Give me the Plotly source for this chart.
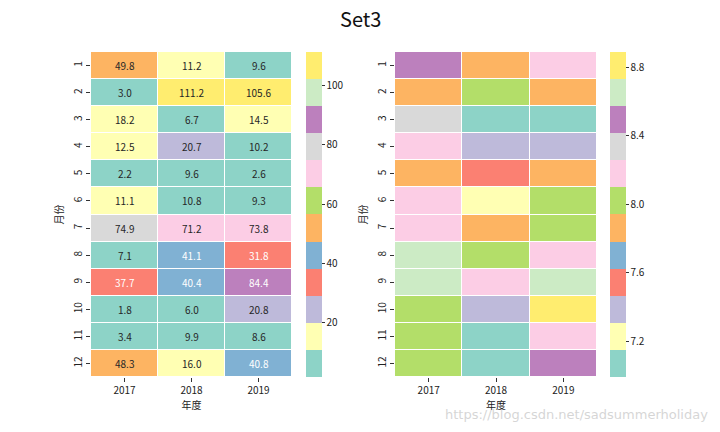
import plotly.graph_objects as go

years = ["2017", "2018", "2019"]
months = [str(m) for m in range(1, 13)]

# left heatmap values (rows = months, cols = years)
left_values = [
    [49.8, 11.2, 9.6],
    [3.0, 111.2, 105.6],
    [18.2, 6.7, 14.5],
    [12.5, 20.7, 10.2],
    [2.2, 9.6, 2.6],
    [11.1, 10.8, 9.3],
    [74.9, 71.2, 73.8],
    [7.1, 41.1, 31.8],
    [37.7, 40.4, 84.4],
    [1.8, 6.0, 20.8],
    [3.4, 9.9, 8.6],
    [48.3, 16.0, 40.8],
]

# right heatmap values (estimated from colour bins)
right_values = [
    [8.50, 7.86, 8.17],
    [7.88, 8.03, 7.84],
    [8.33, 6.99, 7.08],
    [8.19, 7.40, 7.38],
    [7.85, 7.55, 7.87],
    [8.16, 7.22, 8.02],
    [8.18, 7.86, 8.04],
    [8.66, 8.01, 8.20],
    [8.64, 8.17, 8.63],
    [8.03, 7.39, 8.89],
    [8.02, 7.06, 8.19],
    [8.00, 7.05, 8.48],
]

left_ticks = [20, 40, 60, 80, 100]
right_ticks = [7.2, 7.6, 8.0, 8.4, 8.8]

set3 = ["#8dd3c7", "#ffffb3", "#bebada", "#fb8072", "#80b1d3", "#fdb462",
        "#b3de69", "#fccde5", "#d9d9d9", "#bc80bd", "#ccebc5", "#ffed6f"]
n = len(set3)
colorscale = []
for i, c in enumerate(set3):
    colorscale.append([i / n, c])
    colorscale.append([(i + 1) / n, c])

FONT = "Noto Sans CJK SC, Noto Sans, sans-serif"
W, H = 720, 432
OFF = 8  # page body margin

def px_x(p):
    return (p - OFF) / W

def px_y(p):
    return 1 - (p - OFF) / H

xi = list(range(len(years)))
yi = list(range(len(months)))

top, bottom = 52, 377
fig = go.Figure()

def add_map(values, xa, ya, cb_x, ticks, fmt):
    flat = [v for r in values for v in r]
    zmin, zmax = min(flat), max(flat)
    fig.add_trace(go.Heatmap(
        z=values, x=xi, y=yi, xaxis=xa, yaxis=ya,
        colorscale=colorscale, zmin=zmin, zmax=zmax,
        xgap=1, ygap=1, hoverinfo="skip",
        colorbar=dict(
            x=px_x(cb_x), xanchor="left", y=px_y(bottom), yanchor="bottom",
            len=(bottom - top) / H, lenmode="fraction", thickness=16,
            xpad=0, ypad=0, outlinewidth=0,
            tickvals=ticks, ticktext=[fmt.format(t) for t in ticks],
            ticks="outside", ticklen=3, tickcolor="#333",
            tickfont=dict(family=FONT, size=10, color="#222"),
        ),
    ))
    return zmin, zmax

zmin_l, zmax_l = add_map(left_values, "x", "y", 306, left_ticks, "{:d}")
add_map(right_values, "x2", "y2", 610, right_ticks, "{:.1f}")

dark = {"#80b1d3", "#fb8072", "#bc80bd"}
annotations = []
for i, row in enumerate(left_values):
    for j, v in enumerate(row):
        idx = min(int((v - zmin_l) / (zmax_l - zmin_l) * n), n - 1)
        col = "white" if set3[idx] in dark else "#262626"
        annotations.append(dict(
            x=xi[j], y=yi[i], xref="x", yref="y", text=f"{v:.1f}",
            showarrow=False, font=dict(family=FONT, size=10, color=col)))

annotations.append(dict(
    x=px_x(360), y=px_y(19), xref="paper", yref="paper", text="Set3", showarrow=False,
    font=dict(family=FONT, size=20, color="#111"), yanchor="middle"))
annotations.append(dict(
    x=px_x(710), y=px_y(414), xref="paper", yref="paper", xanchor="right",
    text="https://blog.csdn.net/sadsummerholiday", showarrow=False,
    font=dict(family="DejaVu Sans, sans-serif", size=13, color="rgba(200,200,200,0.75)"),
    yanchor="middle"))

axis_common = dict(
    showgrid=False, zeroline=False, showline=False, ticks="outside",
    ticklen=4, tickcolor="#333", tickfont=dict(family=FONT, size=10, color="#222"),
    automargin=False,
)
title_font = dict(family=FONT, size=10, color="#222")

def xaxis(dom, anchor):
    return dict(domain=dom, anchor=anchor, range=[-0.5, len(years) - 0.5],
                tickvals=xi, ticktext=years,
                title=dict(text="年度", font=title_font, standoff=5), **axis_common)

def yaxis(anchor):
    return dict(domain=[px_y(bottom), px_y(top)], anchor=anchor,
                range=[len(months) - 0.5, -0.5], tickvals=yi, ticktext=months,
                tickangle=-90,
                title=dict(text="月份", font=title_font, standoff=4), **axis_common)

fig.update_layout(
    width=W, height=H, margin=dict(l=0, r=0, t=0, b=0, autoexpand=False),
    paper_bgcolor="white", plot_bgcolor="white", showlegend=False,
    annotations=annotations,
    xaxis=xaxis([px_x(91), px_x(292)], "y"),
    yaxis=yaxis("x"),
    xaxis2=xaxis([px_x(395), px_x(597)], "y2"),
    yaxis2=yaxis("x2"),
)

fig.write_html("out.html")
